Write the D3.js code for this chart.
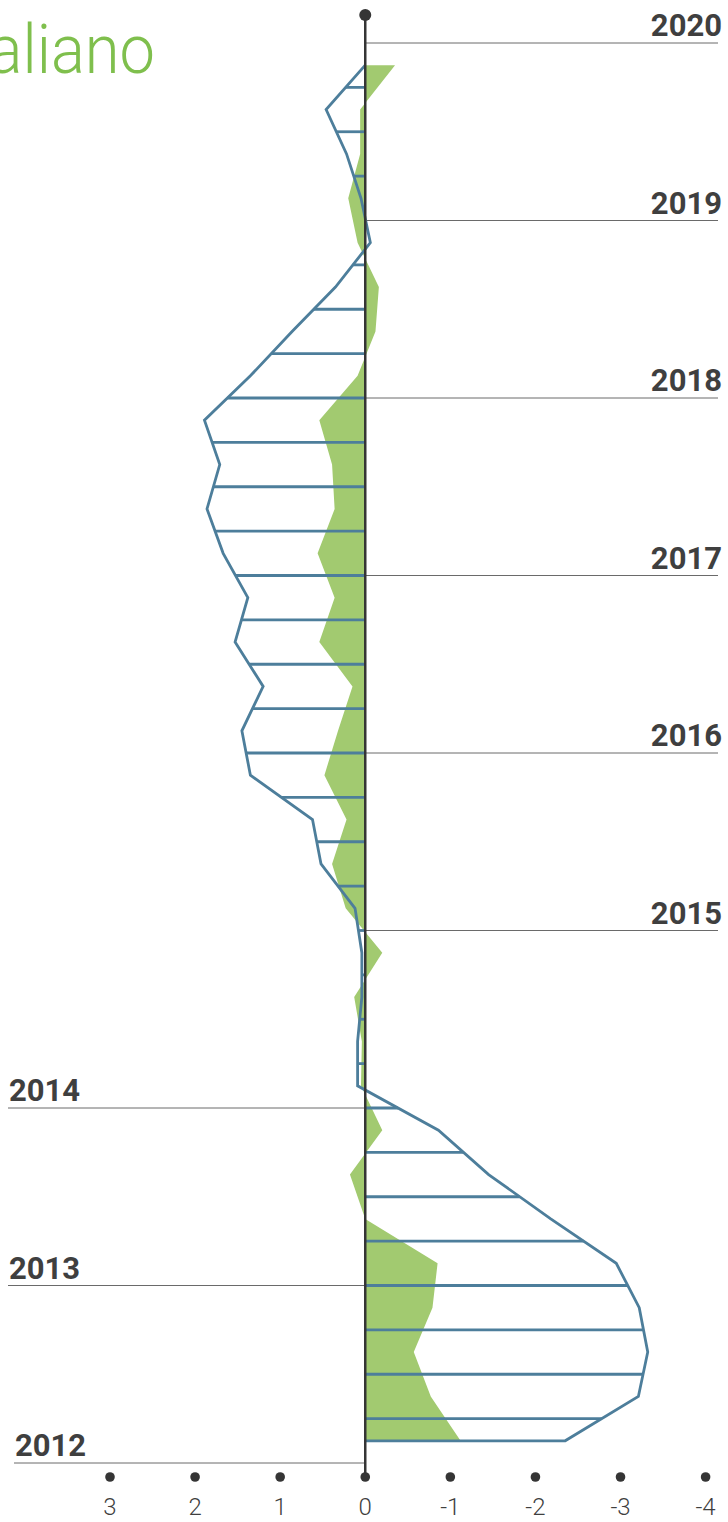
<!DOCTYPE html>
<html>
<head>
<meta charset="utf-8">
<script src="https://cdn.jsdelivr.net/npm/d3@7"></script>
<style>
  html, body { margin: 0; padding: 0; background: #fff; }
  svg { display: block; }
  text { font-family: Roboto, "Noto Sans", sans-serif; }
</style>
</head>
<body>
<div id="chart"></div>
<script>
// ---- data (quarterly, 2012 Q1 .. 2019 Q4) ----
const startYear = 2012;
const quarters = d3.range(32).map(i => startYear + Math.floor(i / 4) + "Q" + (i % 4 + 1));
// outlined (hatched) series
const seriesBlue = [
  -2.35, -3.21, -3.32, -3.22,   // 2012
  -2.95, -2.18, -1.45, -0.86,   // 2013
   0.09,  0.09,  0.04,  0.04,   // 2014
   0.12,  0.52,  0.62,  1.35,   // 2015
   1.45,  1.20,  1.53,  1.38,   // 2016
   1.67,  1.86,  1.71,  1.89,   // 2017
   1.35,  0.86,  0.35, -0.06,   // 2018
   0.05,  0.22,  0.46,  0.00    // 2019
];
// filled (green) series
const seriesGreen = [
  -1.12, -0.77, -0.57, -0.79,   // 2012
  -0.85,  0.00,  0.18, -0.20,   // 2013
   0.05,  0.04,  0.13, -0.20,   // 2014
   0.23,  0.39,  0.22,  0.48,   // 2015
   0.32,  0.15,  0.54,  0.36,   // 2016
   0.56,  0.36,  0.39,  0.54,   // 2017
   0.09, -0.12, -0.16,  0.09,   // 2018
   0.20,  0.06,  0.06, -0.35    // 2019
];
const xTicks = [3, 2, 1, 0, -1, -2, -3, -4];
const yearLabels = [2012, 2013, 2014, 2015, 2016, 2017, 2018, 2019, 2020];
const leftSideYears = [2012, 2013, 2014];
const titleText = "Italiano";

// ---- layout ----
const W = 728, H = 1522;
const svg = d3.select("#chart").append("svg").attr("width", W).attr("height", H);

const x = d3.scaleLinear().domain([3, -4]).range([110, 705.6]);
const y = d3.scaleLinear().domain([2012, 2020]).range([1463, 43]);

const colBlue = "#4d7e9b", colGreen = "#a2ca70", colAxis = "#353535", colText = "#3f3f3f";

const t = i => startYear + (i + 0.5) / 4;
const blue = seriesBlue.map((v, i) => ({ t: t(i), v, q: quarters[i] }));
const green = seriesGreen.map((v, i) => ({ t: t(i), v, q: quarters[i] }));

// year grid lines + labels
const gYears = svg.append("g");
yearLabels.forEach(yr => {
  const left = leftSideYears.includes(yr);
  const lx0 = left ? (yr === 2012 ? 14 : 8) : x(0);
  const lx1 = left ? x(0) : 718;
  gYears.append("line")
    .attr("x1", lx0).attr("x2", lx1)
    .attr("y1", y(yr)).attr("y2", y(yr))
    .attr("stroke", "#6a6a6a").attr("stroke-width", 1);
  gYears.append("text")
    .attr("x", left ? lx0 + 1 : 722)
    .attr("y", y(yr) - 7)
    .attr("text-anchor", left ? "start" : "end")
    .attr("font-size", 31).attr("font-weight", 700)
    .attr("fill", colText)
    .text(yr);
});

// green filled area
const area = d3.area()
  .x0(() => x(0)).x1(d => x(d.v))
  .y(d => y(d.t));
svg.append("path").datum(green)
  .attr("d", area)
  .attr("fill", colGreen);

// blue hatch lines at quarter boundaries
const hatch = d3.range(1, blue.length).map(k => ({
  t: startYear + k / 4,
  v: (blue[k - 1].v + blue[k].v) / 2
}));
svg.append("g").selectAll("line").data(hatch).join("line")
  .attr("x1", x(0)).attr("x2", d => x(d.v))
  .attr("y1", d => y(d.t)).attr("y2", d => y(d.t))
  .attr("stroke", colBlue).attr("stroke-width", 2.8);

// blue outline
const outline = [{ t: blue[0].t, v: 0 }, ...blue, { t: blue[blue.length - 1].t, v: 0 }];
svg.append("path").datum(outline)
  .attr("d", d3.line().x(d => x(d.v)).y(d => y(d.t)))
  .attr("fill", "none")
  .attr("stroke", colBlue).attr("stroke-width", 2.8)
  .attr("stroke-linejoin", "miter");

// central axis
svg.append("line")
  .attr("x1", x(0)).attr("x2", x(0))
  .attr("y1", 15).attr("y2", 1477)
  .attr("stroke", colAxis).attr("stroke-width", 2.5);
svg.append("circle").attr("cx", x(0)).attr("cy", 15).attr("r", 6).attr("fill", colAxis);

// x ticks: dots + labels
const gx = svg.append("g");
gx.selectAll("circle").data(xTicks).join("circle")
  .attr("cx", d => x(d)).attr("cy", 1477).attr("r", 4.8).attr("fill", colAxis);
gx.selectAll("text").data(xTicks).join("text")
  .attr("x", d => x(d)).attr("y", 1515)
  .attr("text-anchor", "middle")
  .attr("font-size", 24).attr("font-weight", 300)
  .attr("fill", colText)
  .text(d => d);

// title (cut off at the left edge, as in the original)
svg.append("text")
  .attr("transform", "translate(155,73) scale(0.93,1)")
  .attr("text-anchor", "end")
  .attr("font-size", 68).attr("font-weight", 300)
  .attr("fill", "#7fbf4d")
  .text(titleText);
</script>
</body>
</html>
